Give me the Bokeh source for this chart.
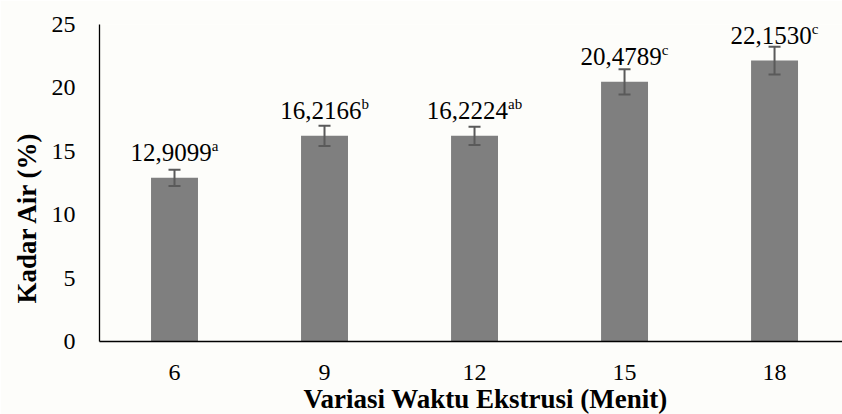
from bokeh.plotting import figure
from bokeh.models import Range1d, FixedTicker, ColumnDataSource, Whisker, TeeHead, Title
from bokeh.core.properties import value
from bokeh.embed import file_html
from bokeh.resources import INLINE

categories = ["6", "9", "12", "15", "18"]
kadar_air = [12.9099, 16.2166, 16.2224, 20.4789, 22.1530]
notasi = ["a", "b", "ab", "c", "c"]
galat = [0.64, 0.79, 0.72, 1.0, 1.1]
y_ticks = [0, 5, 10, 15, 20, 25]

FONT = "Times New Roman"
BG = "#fdfdfa"
BAR = "#7f7f7f"
ERR = "#5a5a5a"

xs = [i + 0.5 for i in range(len(categories))]
main_labels = [f"{v:.4f}".replace(".", ",") for v in kadar_air]

MAIN_FS = 25
SUP_FS = 15
w_main = 3.25 * MAIN_FS
char_w = {"a": 0.444, "b": 0.5, "c": 0.444}
offs = []
for s in notasi:
    ws = sum(char_w[c] for c in s) * SUP_FS
    offs.append((w_main - ws) / 2.0)

src = ColumnDataSource(dict(
    x=xs, top=kadar_air, label=main_labels, sup=notasi, off=offs,
    upper=[v + e for v, e in zip(kadar_air, galat)],
    lower=[v - e for v, e in zip(kadar_air, galat)],
))

p = figure(width=842, height=414, output_backend="svg", toolbar_location=None,
           x_range=Range1d(0, 4.953), y_range=Range1d(0, 25),
           min_border_left=99, min_border_right=0, min_border_top=24, min_border_bottom=73)
p.background_fill_color = BG
p.border_fill_color = BG
p.outline_line_color = None
p.xgrid.visible = False
p.ygrid.visible = False

p.vbar(x="x", top="top", bottom=0, width=0.313, source=src, fill_color=BAR, line_color=None)

w = Whisker(base="x", upper="upper", lower="lower", source=src, level="annotation",
            line_color=ERR, line_width=2,
            upper_head=TeeHead(size=12, line_color=ERR, line_width=2),
            lower_head=TeeHead(size=12, line_color=ERR, line_width=2))
p.add_layout(w)

p.text(x="x", y="top", text="label", source=src, x_offset="off", y_offset=-25,
       text_align="right", text_baseline="alphabetic", text_font=value(FONT),
       text_font_size=f"{MAIN_FS}px", text_color="black")
p.text(x="x", y="top", text="sup", source=src, x_offset="off", y_offset=-32,
       text_align="left", text_baseline="alphabetic", text_font=value(FONT),
       text_font_size=f"{SUP_FS}px", text_color="black")

p.xaxis.ticker = FixedTicker(ticks=xs)
p.xaxis.major_label_overrides = {x: c for x, c in zip(xs, categories)}
p.yaxis.ticker = FixedTicker(ticks=y_ticks)
for ax in (p.xaxis[0], p.yaxis[0]):
    ax.major_tick_line_color = None
    ax.minor_tick_line_color = None
    ax.major_tick_out = 0
    ax.major_tick_in = 0
    ax.axis_line_color = "black"
    ax.axis_line_width = 1.3
    ax.major_label_text_font = FONT
    ax.major_label_text_font_size = "24px"
    ax.major_label_text_color = "black"
p.xaxis.major_label_standoff = 23
p.yaxis.major_label_standoff = 24

p.add_layout(Title(text="Variasi Waktu Ekstrusi (Menit)", align="left", offset=204,
                   text_font=FONT, text_font_style="bold", text_font_size="27px",
                   text_color="black", standoff=-2), "below")
p.add_layout(Title(text="Kadar Air (%)", align="left", offset=38,
                   text_font=FONT, text_font_style="bold", text_font_size="27px",
                   text_color="black", standoff=14), "left")

open("out.html", "w").write(file_html(p, INLINE))
